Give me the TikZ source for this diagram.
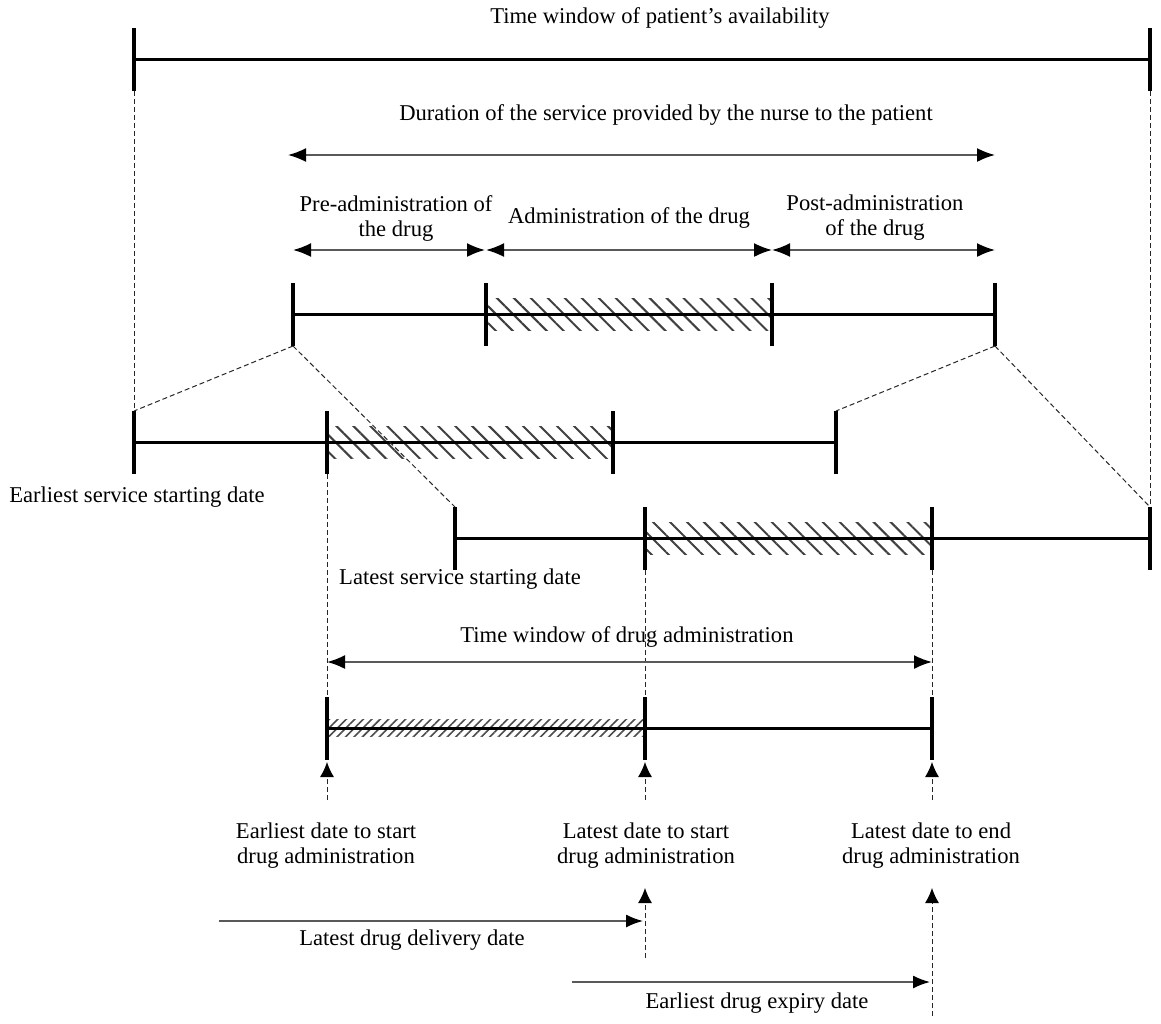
\documentclass[tikz,border=0pt]{standalone}
\usepackage{fontspec}
\setmainfont{Liberation Serif}
\usetikzlibrary{arrows.meta,patterns.meta}

\tikzset{
  bar/.style={line width=3pt},
  tickline/.style={line width=3.5pt},
  guide/.style={line width=1pt, dash pattern=on 5pt off 3pt, black!85},
  span/.style={{Latex[length=18pt,width=14pt,black]}-{Latex[length=18pt,width=14pt,black]}, line width=1.8pt, black!65},
  onearrow/.style={-{Latex[length=17pt,width=13pt,black]}, line width=1.6pt, black!65},
  uparrow/.style={guide, -{Latex[length=15pt,width=14pt,black]}},
  hatch/.style={pattern={Lines[angle=-45,distance=12pt,line width=2pt]}, pattern color=black!75},
  finehatch/.style={pattern={Lines[angle=45,distance=6pt,line width=1.6pt]}, pattern color=black!70},
  lbl/.style={inner sep=0pt, align=center}
}

\begin{document}
\begin{tikzpicture}[x=1pt, y=-1pt, font=\fontsize{22.6}{25}\selectfont]
\useasboundingbox (0,0) rectangle (1161,1023);

% tick marks on every time line
\foreach \n/\x/\y in {pw1/134/59, pw2/1150/59,
    sv1/293/314, sv2/486/314, sv3/772/314, sv4/995/314,
    es1/134/442, es2/327/442, es3/613/442, es4/836/442,
    ls1/455/538, ls2/645/538, ls3/932/538, ls4/1150/538,
    dw1/327/728, dw2/645/728, dw3/932/728}{
  \coordinate (\n) at (\x,\y);
  \coordinate (\n-t) at (\x,\y-31);
  \coordinate (\n-b) at (\x,\y+32);
}

% hatched administration parts
\fill[hatch] ([yshift=16pt]sv2) rectangle ([yshift=-16pt]sv3);
\fill[hatch] ([yshift=16pt]es2) rectangle ([yshift=-16pt]es3);
\fill[hatch] ([yshift=16pt]ls2) rectangle ([yshift=-16pt]ls3);
\fill[finehatch] ([yshift=9pt]dw1) rectangle ([yshift=-8pt]dw2);

% time lines
\draw[bar] (pw1) -- (pw2);
\draw[bar] (sv1) -- (sv4);
\draw[bar] (es1) -- (es4);
\draw[bar] (ls1) -- (ls4);
\draw[bar] (dw1) -- (dw3);
\foreach \n in {pw1,pw2,sv1,sv2,sv3,sv4,es1,es2,es3,es4,ls1,ls2,ls3,ls4,dw1,dw2,dw3}
  \draw[tickline] (\n-t) -- (\n-b);

% Patient availability
\node[lbl] (avail) at (660,18) {Time window of patient’s availability};

% Service duration
\node[lbl] (dur) at (666,115) {Duration of the service provided by the nurse to the patient};
\coordinate (dur1) at (288,155);
\coordinate (dur2) at (995,155);
\draw[span] (dur1) -- (dur2);
\coordinate (ph1) at (293,250);
\coordinate (ph2) at (485,250);
\coordinate (ph3) at (772,250);
\coordinate (ph4) at (995,250);
\draw[span] (ph1) -- (ph2);
\draw[span] ([xshift=1pt]ph2) -- (ph3);
\draw[span] (ph3) -- (ph4);
\node[lbl] (pre) at (396,218) {Pre-administration of\\the drug};
\node[lbl] (adm) at (629,218) {Administration of the drug};
\node[lbl] (post) at (875,218) {Post-administration\\of the drug};

% projections of the service onto the window
\draw[guide] (pw1-b) -- (es1-t);
\draw[guide] (pw2-b) -- (ls4-t);
\draw[guide] (sv1-b) -- (es1-t);
\draw[guide] (sv1-b) -- (ls1-t);
\draw[guide] (sv4-b) -- (es4-t);
\draw[guide] (sv4-b) -- (ls4-t);
\node[lbl] (esd) at (137,497) {Earliest service starting date};
\node[lbl] (lsd) at (460,579) {Latest service starting date};

% Drug administration window
\draw[guide] (es2-b) -- (dw1-t);
\draw[guide] (ls2-b) -- (dw2-t);
\draw[guide] (ls3-b) -- (dw3-t);
\node[lbl] (dwin) at (627,637) {Time window of drug administration};
\coordinate (dwa1) at (327,662);
\coordinate (dwa2) at (932,662);
\draw[span] (dwa1) -- (dwa2);

% dates below the window
\coordinate (up1) at (327,800);
\coordinate (up2) at (645,800);
\coordinate (up3) at (932,800);
\draw[uparrow] (up1) -- ([yshift=-2pt]dw1-b);
\draw[uparrow] (up2) -- ([yshift=-2pt]dw2-b);
\draw[uparrow] (up3) -- ([yshift=-2pt]dw3-b);
\node[lbl] (estart) at (326,846) {Earliest date to start\\drug administration};
\node[lbl] (lstart) at (646,846) {Latest date to start\\drug administration};
\node[lbl] (lend) at (931,846) {Latest date to end\\drug administration};

% Delivery and expiry
\coordinate (dl1) at (219,921);
\coordinate (dl2) at (643,921);
\draw[onearrow] (dl1) -- (dl2);
\coordinate (dv1) at (645,958);
\coordinate (dv2) at (645,888);
\draw[uparrow] (dv1) -- (dv2);
\node[lbl] (deliv) at (412,940) {Latest drug delivery date};
\coordinate (ex1) at (572,982);
\coordinate (ex2) at (930,982);
\draw[onearrow] (ex1) -- (ex2);
\coordinate (xv1) at (932,1016);
\coordinate (xv2) at (932,888);
\draw[uparrow] (xv1) -- (xv2);
\node[lbl] (expiry) at (757,1003) {Earliest drug expiry date};
\end{tikzpicture}
\end{document}
